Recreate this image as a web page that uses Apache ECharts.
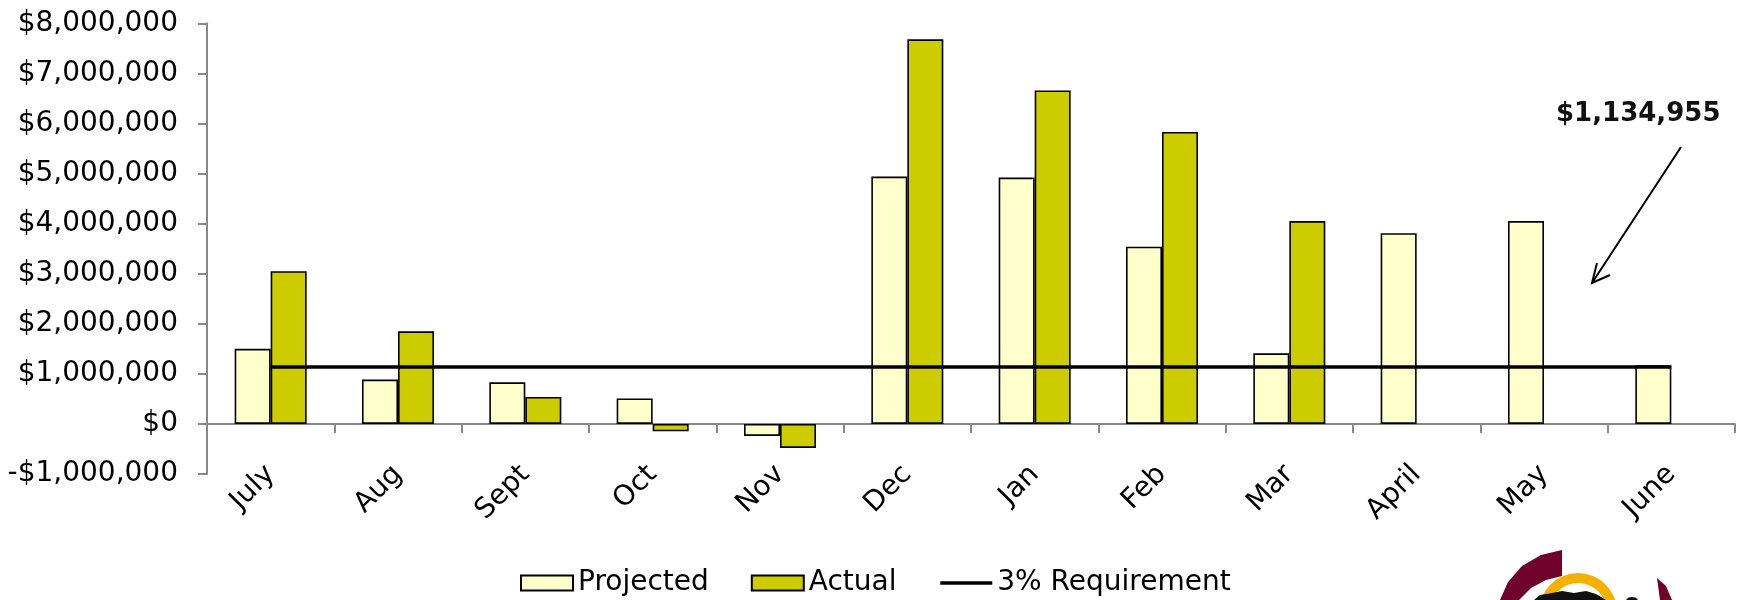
<!DOCTYPE html>
<html>
<head>
<meta charset="utf-8">
<title>Projected vs Actual</title>
<script src="https://cdn.jsdelivr.net/npm/echarts@6/dist/echarts.min.js"></script>
<style>
  html, body { margin: 0; padding: 0; background: #fff; }
  #chart { width: 1744px; height: 600px; }
</style>
</head>
<body>
<div id="chart"></div>
<script>
// Monthly figures, July through June
const months = ['July', 'Aug', 'Sept', 'Oct', 'Nov', 'Dec', 'Jan', 'Feb', 'Mar', 'April', 'May', 'June'];
const projected = [1500000, 885000, 830000, 510000, -240000, 4940000, 4920000, 3540000, 1410000, 3810000, 4050000, 1170000];
const actual = [3050000, 1850000, 540000, -146000, -480000, 7680000, 6660000, 5830000, 4050000, null, null, null];
const requirement = 1134955;
const requirementLine = months.map(() => requirement);
const yTicks = { min: -1000000, max: 8000000, step: 1000000 };

const FONT = 'DejaVu Sans';

function money(v) {
  const s = Math.abs(v).toLocaleString('en-US');
  return (v < 0 ? '-$' : '$') + s;
}

const chart = echarts.init(document.getElementById('chart'), null, { renderer: 'canvas' });

chart.setOption({
  backgroundColor: '#ffffff',
  animation: false,
  textStyle: { fontFamily: FONT, color: '#000' },
  grid: { left: 207, right: 9, top: 23.3, bottom: 126, containLabel: false },
  legend: {
    left: 515,
    top: 564,
    itemWidth: 52,
    itemHeight: 15,
    itemGap: 42,
    textStyle: { fontFamily: FONT, fontSize: 28, color: '#000' },
    data: [
      { name: 'Projected', icon: 'rect' },
      { name: 'Actual', icon: 'rect' },
      { name: '3% Requirement', itemStyle: { opacity: 0 }, lineStyle: { color: '#000', width: 3.5 } }
    ]
  },
  xAxis: {
    type: 'category',
    data: months,
    boundaryGap: true,
    axisLine: { onZero: true, lineStyle: { color: '#888888', width: 2 } },
    axisTick: { show: true, length: 9, alignWithLabel: false, lineStyle: { color: '#888888', width: 2 } },
    axisLabel: { rotate: 45, margin: -4, fontFamily: FONT, fontSize: 28, color: '#000', interval: 0 },
    splitLine: { show: false }
  },
  yAxis: {
    type: 'value',
    min: yTicks.min,
    max: yTicks.max,
    interval: yTicks.step,
    axisLine: { show: true, lineStyle: { color: '#888888', width: 2 } },
    axisTick: { show: true, length: 9, lineStyle: { color: '#888888', width: 2 } },
    axisLabel: { margin: 29, fontFamily: FONT, fontSize: 28, color: '#000', formatter: money },
    splitLine: { show: false }
  },
  series: [
    {
      name: 'Projected',
      type: 'bar',
      data: projected,
      barWidth: 36,
      barGap: '0%',
      itemStyle: { color: '#FFFFCC', borderColor: '#000', borderWidth: 1.6 },
      z: 2
    },
    {
      name: 'Actual',
      type: 'bar',
      data: actual,
      barWidth: 36,
      barGap: '0%',
      itemStyle: { color: '#CCCC00', borderColor: '#000', borderWidth: 1.6 },
      z: 2
    },
    {
      name: '3% Requirement',
      type: 'line',
      data: requirementLine,
      symbol: 'none',
      showSymbol: false,
      lineStyle: { color: '#000', width: 3.5 },
      itemStyle: { color: '#000' },
      z: 5
    }
  ],
  graphic: [
    // requirement callout
    {
      type: 'text',
      left: 1556,
      top: 101,
      style: { text: money(requirement), font: 'bold 26px "DejaVu Sans"', fill: '#111' }
    },
    {
      type: 'line',
      shape: { x1: 1681, y1: 147, x2: 1592, y2: 283 },
      style: { stroke: '#000', lineWidth: 2 }
    },
    {
      type: 'polyline',
      shape: { points: [[1610, 275], [1592, 283], [1597, 263]] },
      style: { stroke: '#000', lineWidth: 2, fill: null }
    },
    // emblem in the lower right corner
    {
      type: 'polygon',
      shape: { points: [[1500, 600], [1508, 582], [1522, 566], [1541, 555], [1562, 550], [1562, 576], [1546, 580], [1531, 588], [1519, 600]] },
      style: { fill: '#70012B' }
    },
    {
      type: 'polygon',
      shape: { points: [[1657, 578], [1666, 586], [1672, 600], [1660, 600]] },
      style: { fill: '#70012B' }
    },
    {
      type: 'sector',
      shape: { cx: 1578, cy: 612, r0: 29, r: 39, startAngle: Math.PI * 1.0, endAngle: Math.PI * 2.0 },
      style: { fill: '#F6B100' }
    },
    {
      type: 'polygon',
      shape: { points: [[1534, 600], [1540, 595], [1552, 593], [1562, 591], [1574, 593], [1586, 591], [1596, 594], [1606, 600]] },
      style: { fill: '#111' }
    },
    {
      type: 'ellipse',
      shape: { cx: 1632, cy: 601, rx: 6, ry: 4 },
      style: { fill: '#111' }
    }
  ]
});
</script>
</body>
</html>
